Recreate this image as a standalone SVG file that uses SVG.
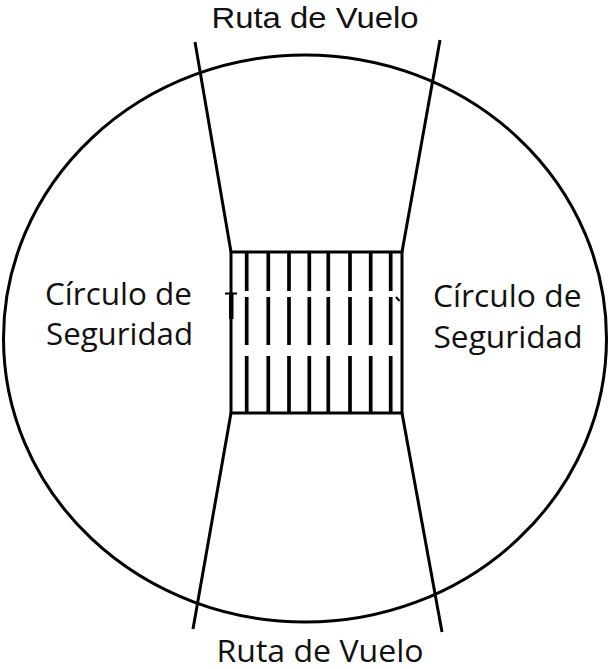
<svg xmlns="http://www.w3.org/2000/svg" width="613" height="669" viewBox="0 0 613 669">
<style>
.ln{stroke:#000;stroke-width:3;fill:none;stroke-linecap:butt}
.h{stroke:#000;stroke-width:3.7;fill:none}
.t{font-family:"Open Sans","Liberation Sans",sans-serif;font-size:31px;fill:#111}
.tt{font-family:"Liberation Sans",sans-serif;font-size:30px;fill:#111}
</style>
<rect width="613" height="669" fill="#fff"/>
<g id="circle">
<ellipse class="ln" cx="305" cy="338.5" rx="301.5" ry="283.5"/>
</g>
<g id="routes">
<line class="ln" x1="195" y1="42" x2="231" y2="252"/>
<line class="ln" x1="440" y1="40" x2="402" y2="252"/>
<line class="ln" x1="231" y1="413" x2="193" y2="629"/>
<line class="ln" x1="402" y1="413" x2="442" y2="632"/>
</g>
<g id="zone">
<rect class="ln" x="231" y="252" width="171" height="161"/>
<g class="h">
<path d="M246.7 253V291M246.7 297V345M246.7 356V412"/>
<path d="M268.3 253V291M268.3 297V345M268.3 356V412"/>
<path d="M289 253V291M289 297V345M289 356V412"/>
<path d="M309.3 253V291M309.3 297V345M309.3 356V412"/>
<path d="M328.3 253V291M328.3 297V345M328.3 356V412"/>
<path d="M350 253V291M350 297V345M350 356V412"/>
<path d="M370.7 253V291M370.7 297V345M370.7 356V412"/>
<path d="M390.7 253V291M390.7 297V345M390.7 356V412"/>
</g>
<line x1="225" y1="293.5" x2="237" y2="293.5" stroke="#000" stroke-width="2"/>
<rect x="229" y="294" width="4.5" height="25" fill="#000"/>
<line x1="396" y1="297" x2="399.5" y2="301" stroke="#000" stroke-width="2"/>
</g>
<g id="labels">
<text class="tt" x="211.5" y="28" textLength="207" lengthAdjust="spacingAndGlyphs">Ruta de Vuelo</text>
<text class="t" x="216.5" y="661.5" textLength="207" lengthAdjust="spacingAndGlyphs">Ruta de Vuelo</text>
<text class="t" x="45" y="305" textLength="147" lengthAdjust="spacingAndGlyphs">Círculo de</text>
<text class="t" x="46" y="344.5" textLength="147" lengthAdjust="spacingAndGlyphs">Seguridad</text>
<text class="t" x="433" y="306.5" textLength="148.5" lengthAdjust="spacingAndGlyphs">Círculo de</text>
<text class="t" x="433.5" y="347.5" textLength="149" lengthAdjust="spacingAndGlyphs">Seguridad</text>
</g>
</svg>
